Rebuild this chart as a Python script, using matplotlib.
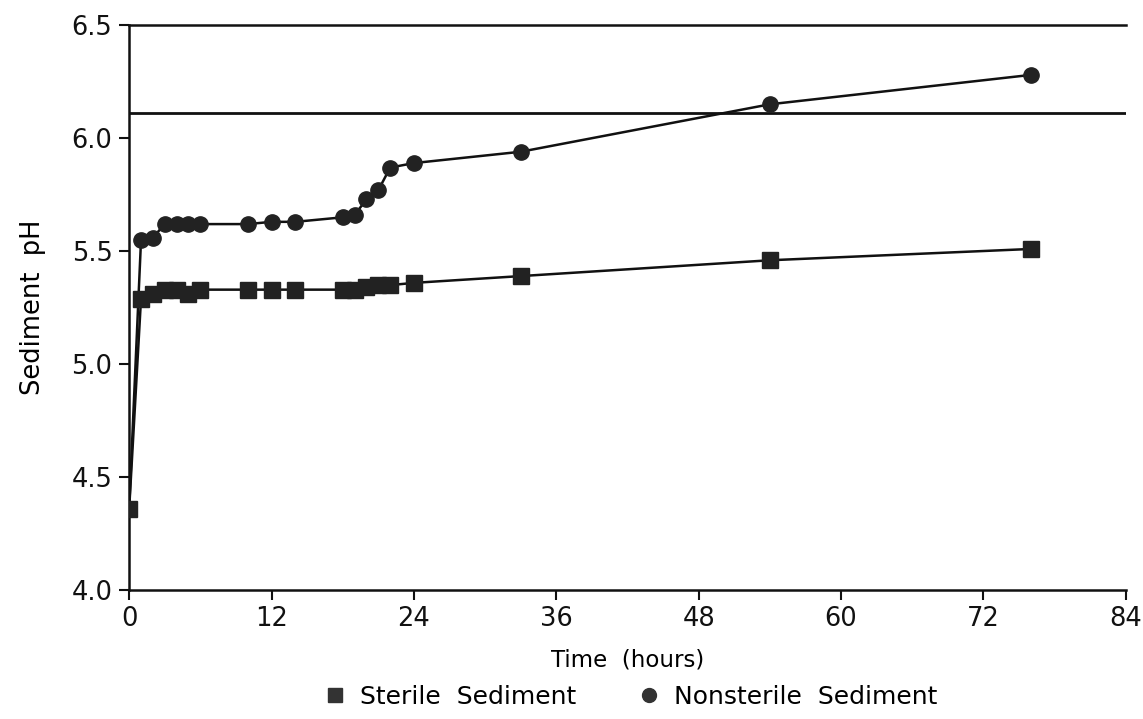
import matplotlib
matplotlib.use('Agg')
import matplotlib.pyplot as plt
from matplotlib.lines import Line2D

# sampling times (hours)
hours = [0, 1, 2, 3, 4, 5, 6, 10, 12, 14, 18, 19, 20, 21, 22, 24, 33, 54, 76]

# sediment pH readings
sterile_ph = [4.36, 5.29, 5.31, 5.33, 5.33, 5.31, 5.33, 5.33, 5.33, 5.33,
              5.33, 5.33, 5.34, 5.35, 5.35, 5.36, 5.39, 5.46, 5.51]
nonsterile_ph = [4.36, 5.55, 5.56, 5.62, 5.62, 5.62, 5.62, 5.62, 5.63, 5.63,
                 5.65, 5.66, 5.73, 5.77, 5.87, 5.89, 5.94, 6.15, 6.28]

reference_ph = 6.11

x_ticks = [0, 12, 24, 36, 48, 60, 72, 84]
y_ticks = [4.0, 4.5, 5.0, 5.5, 6.0, 6.5]

plt.rcParams['font.family'] = ['DejaVu Sans']
ink = '#111111'

fig = plt.figure(figsize=(11.43, 7.19), dpi=100)
ax = fig.add_axes([0.113, 0.179, 0.872, 0.786])

ax.axhline(reference_ph, color=ink, lw=2, zorder=1)
ax.plot(hours, nonsterile_ph, color=ink, lw=1.8, marker='o', markersize=11,
        markerfacecolor='#222222', markeredgecolor='#222222', zorder=3)
ax.plot(hours, sterile_ph, color=ink, lw=1.8, marker='s', markersize=11,
        markerfacecolor='#222222', markeredgecolor='#222222', zorder=4)

ax.set_xlim(0, 84)
ax.set_ylim(4.0, 6.5)
ax.set_xticks(x_ticks)
ax.set_yticks(y_ticks)
ax.set_yticklabels([f'{v:.1f}' for v in y_ticks])

ax.spines['right'].set_visible(False)
for s in ['left', 'bottom', 'top']:
    ax.spines[s].set_linewidth(1.8)
    ax.spines[s].set_color(ink)

ax.tick_params(axis='both', direction='out', length=7, width=1.5, colors=ink,
               labelsize=18.5)
ax.tick_params(axis='y', pad=5)
ax.tick_params(axis='x', pad=4)

ax.set_xlabel('Time  (hours)', fontsize=16.5, labelpad=12)
ax.set_ylabel('Sediment  pH', fontsize=18.5, labelpad=18)

handles = [
    Line2D([], [], linestyle='none', marker='s', markersize=10, color='#333333'),
    Line2D([], [], linestyle='none', marker='o', markersize=10, color='#333333'),
]
fig.legend(handles, ['Sterile  Sediment', 'Nonsterile  Sediment'], loc='center',
           bbox_to_anchor=(0.551, 0.031), ncol=2, frameon=False, fontsize=18,
           handletextpad=0.5, columnspacing=2.4, handlelength=1.0)

fig.savefig('out.png', dpi=100)
